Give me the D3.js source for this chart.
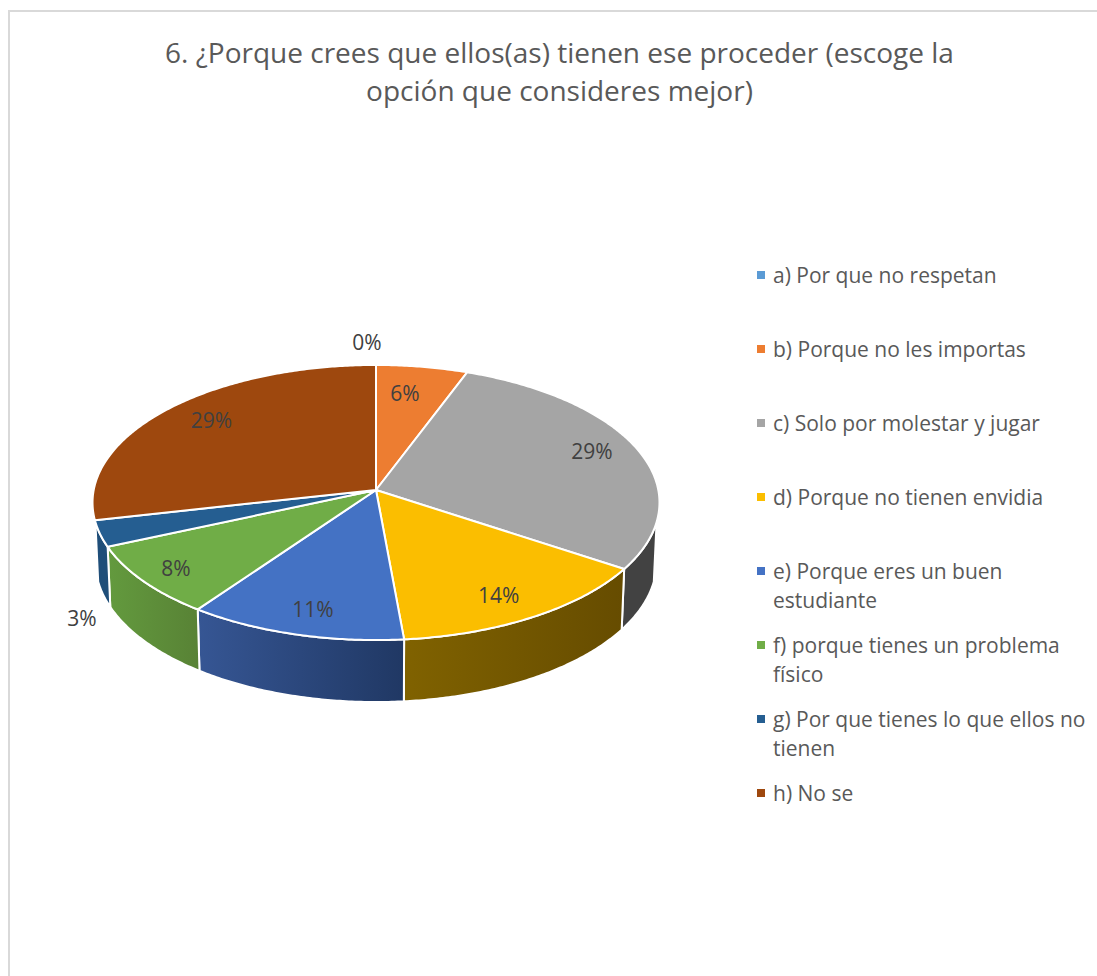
<!DOCTYPE html>
<html>
<head>
<meta charset="utf-8">
<script src="https://d3js.org/d3.v7.min.js"></script>
<style>
html, body { margin: 0; padding: 0; background: #fff; overflow: hidden; }
text { font-family: "Open Sans", sans-serif; }
</style>
</head>
<body>
<svg></svg>
<script>
// 6. pie in perspective
var titleLines = ['6. ¿Porque crees que ellos(as) tienen ese proceder (escoge la', 'opción que consideres mejor)']
var categories = ['a) Por que no respetan', 'b) Porque no les importas', 'c) Solo por molestar y jugar', 'd) Porque no tienen envidia',
                  'e) Porque eres un buen|estudiante', 'f) porque tienes un problema|físico', 'g) Por que tienes lo que ellos no|tienen', 'h) No se']
var values = [0, 5.7, 28.6, 14.3, 11.4, 8.49, 3.1, 28.5]
var colors = ['#5b9bd5', '#ed7d31', '#a5a5a5', '#fbbe00', '#4472c4', '#70ad47', '#255e91', '#9e480e']
var sideLeft = ['#5b9bd5', '#ed7d31', '#424242', '#806200', '#365694', '#639a3e', '#1f4e79', '#9e480e']
var sideRight = ['#5b9bd5', '#ed7d31', '#424242', '#664c00', '#203864', '#588235', '#1f4e79', '#9e480e']

var width = 1097
var height = 976
var cx = 376
var cy = 490
var k = 0.0909
var rx = 282.3
var ry = 136.4
var minSideV = 0.23

var svg = d3.select('svg')
              .attr('width', width)
              .attr('height', height)
              .style('display', 'block')

svg.append('rect')
    .attr('x', 9)
    .attr('y', 11)
    .attr('width', width + 100)
    .attr('height', height + 100)
    .attr('fill', '#fff')
    .attr('stroke', '#d9d9d9')
    .attr('stroke-width', 2)

svg.selectAll('.title')
    .data(titleLines)
    .enter()
    .append('text')
     .attr('class', 'title')
     .attr('x', 559.5)
     .attr('y', (d, i) => 63 + i * 38)
     .attr('text-anchor', 'middle')
     .attr('font-size', 28)
     .attr('fill', '#595959')
     .text(d => d)

// circle -> screen, the far side is squeezed a bit
function project(a, r) {
  var u = r * Math.sin(a)
  var v = -r * Math.cos(a)
  var w = 1 - k * v
  return [cx + rx * u / w, cy + ry * v / w]
}
function projectLow(a) {
  var p = project(a, 1)
  return [cx + (p[0] - cx) * 0.99, p[1] + 59 - 3 * Math.cos(a)]
}

var pie = d3.pie().sort(null).value(d => d)
var arcs = pie(values)
var line = d3.line()

function sweep(a0, a1) {
  var n = Math.max(2, Math.ceil((a1 - a0) / 0.01))
  return d3.range(n + 1).map(i => a0 + (a1 - a0) * i / n)
}

var defs = svg.append('defs')
var sideGrad = defs.selectAll('linearGradient')
    .data(arcs)
    .enter()
    .append('linearGradient')
     .attr('id', (d, i) => 'side' + i)
sideGrad.append('stop').attr('offset', 0).attr('stop-color', (d, i) => sideLeft[i])
sideGrad.append('stop').attr('offset', 1).attr('stop-color', (d, i) => sideRight[i])

// sides: only the part of the rim that faces us
var aMin = Math.acos(-minSideV)
var aMax = 2 * Math.PI - aMin
var sides = arcs.filter(d => d.value > 0 && d.endAngle > aMin && d.startAngle < aMax)

svg.selectAll('.side')
    .data(sides)
    .enter()
    .append('path')
     .attr('class', 'side')
     .attr('d', d => {
       var s = sweep(Math.max(d.startAngle, aMin), Math.min(d.endAngle, aMax))
       return line(s.map(a => project(a, 1)).concat(s.slice().reverse().map(projectLow))) + 'Z'
     })
     .attr('fill', d => 'url(#side' + d.index + ')')
     .attr('stroke', '#fff')
     .attr('stroke-width', 2)
     .attr('stroke-linejoin', 'round')

svg.selectAll('.slice')
    .data(arcs.filter(d => d.value > 0))
    .enter()
    .append('path')
     .attr('class', 'slice')
     .attr('d', d => line([[cx, cy]].concat(sweep(d.startAngle, d.endAngle).map(a => project(a, 1)))) + 'Z')
     .attr('fill', d => colors[d.index])
     .attr('stroke', '#fff')
     .attr('stroke-width', 2)
     .attr('stroke-linejoin', 'round')

// label spot: radius on the pie plus a nudge, the outside ones sit off the rim
var labelSpot = [[1.1, -9, -11], [0.72, -5, -6], [0.8, 6, -5], [0.8, -1, 6], [0.8, 1, 6], [0.87, 1, 0], [1.0, -18, 85], [0.82, 8, -2]]

svg.selectAll('.pct')
    .data(arcs)
    .enter()
    .append('text')
     .attr('class', 'pct')
     .attr('x', (d, i) => project((d.startAngle + d.endAngle) / 2, labelSpot[i][0])[0] + labelSpot[i][1])
     .attr('y', (d, i) => project((d.startAngle + d.endAngle) / 2, labelSpot[i][0])[1] + labelSpot[i][2])
     .attr('dy', '0.35em')
     .attr('text-anchor', 'middle')
     .attr('font-size', 21)
     .attr('fill', '#404040')
     .text(d => Math.round(d.value) + '%')

var legendY = d3.scalePoint()
                .domain(categories)
                .range([275, 793])

var legend = svg.selectAll('.legend')
    .data(categories)
    .enter()
    .append('g')
     .attr('class', 'legend')
     .attr('transform', d => 'translate(757,' + legendY(d) + ')')

legend.append('rect')
    .attr('y', -4)
    .attr('width', 8)
    .attr('height', 8)
    .attr('fill', (d, i) => colors[i])

legend.selectAll('text')
    .data(d => d.split('|'))
    .enter()
    .append('text')
     .attr('x', 16)
     .attr('y', (d, i) => 8 + i * 28.5)
     .attr('font-size', 21)
     .attr('fill', '#595959')
     .text(d => d)
</script>
</body>
</html>
